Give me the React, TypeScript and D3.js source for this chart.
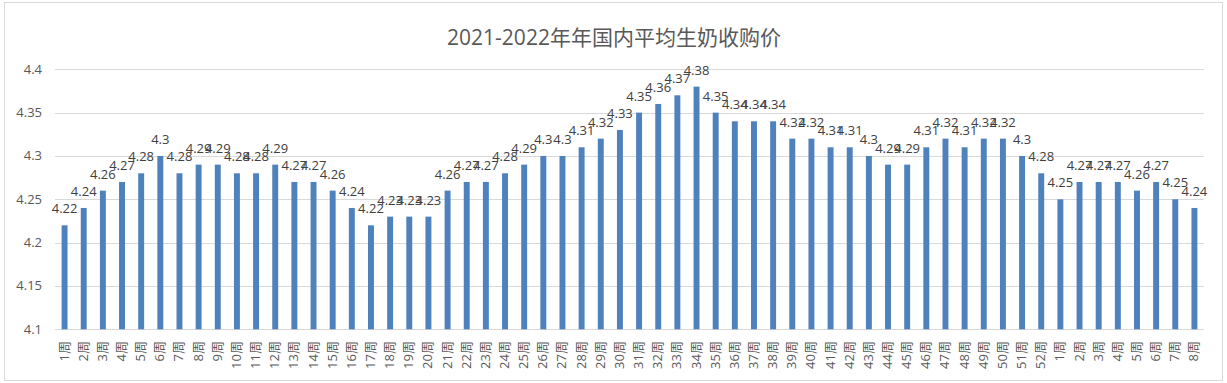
import React from "react";
import * as d3 from "d3";

const categories: string[] = [
  "1周","2周","3周","4周","5周","6周","7周","8周","9周","10周",
  "11周","12周","13周","14周","15周","16周","17周","18周","19周","20周",
  "21周","22周","23周","24周","25周","26周","27周","28周","29周","30周",
  "31周","32周","33周","34周","35周","36周","37周","38周","39周","40周",
  "41周","42周","43周","44周","45周","46周","47周","48周","49周","50周",
  "51周","52周","1周","2周","3周","4周","5周","6周","7周","8周",
];
const values: number[] = [
  4.22,4.24,4.26,4.27,4.28,4.3,4.28,4.29,4.29,4.28,
  4.28,4.29,4.27,4.27,4.26,4.24,4.22,4.23,4.23,4.23,
  4.26,4.27,4.27,4.28,4.29,4.3,4.3,4.31,4.32,4.33,
  4.35,4.36,4.37,4.38,4.35,4.34,4.34,4.34,4.32,4.32,
  4.31,4.31,4.3,4.29,4.29,4.31,4.32,4.31,4.32,4.32,
  4.3,4.28,4.25,4.27,4.27,4.27,4.26,4.27,4.25,4.24,
];
const yTicks: number[] = [4.1,4.15,4.2,4.25,4.3,4.35,4.4];
const title = "2021-2022年年国内平均生奶收购价";

const W = 1227, H = 383;
const plot = { left: 55, right: 1204, top: 69.3, bottom: 329.3 };
const font = "'Open Sans', 'Noto Sans CJK SC', sans-serif";

export default function App() {
  const idx = values.map((_, i) => String(i));
  const x = d3.scaleBand<string>().domain(idx).range([plot.left, plot.right]).paddingInner(0.69).paddingOuter(0.345);
  const y = d3.scaleLinear().domain([4.1, 4.4]).range([plot.bottom, plot.top]);
  const fmt = (v: number) => String(+v.toFixed(2));
  return (
    <svg width={W} height={H} style={{ position: "absolute", left: 0, top: 0, fontFamily: font }}>
      <rect x={0} y={0} width={W} height={H} fill="#fff" />
      <rect x={4.5} y={2.5} width={1218} height={378} fill="none" stroke="#d9d9d9" />
      <text x={614} y={45} textAnchor="middle" fontSize={21} fill="#595959">{title}</text>
      {yTicks.map((t) => (
        <g key={t}>
          <line x1={plot.left} x2={plot.right} y1={Math.round(y(t)) + 0.5} y2={Math.round(y(t)) + 0.5} stroke="#d9d9d9" />
          <text x={42} y={y(t) + 4.5} textAnchor="end" fontSize={13} fill="#595959">{fmt(t)}</text>
        </g>
      ))}
      {values.map((v, i) => {
        const bx = x(String(i))!;
        const cx = bx + x.bandwidth() / 2;
        return (
          <g key={i}>
            <rect x={bx} y={y(v)} width={x.bandwidth()} height={plot.bottom - y(v)} fill="#4f81bd" />
            <text x={cx} y={y(v) - 12} textAnchor="middle" fontSize={13} fill="#404040">{fmt(v)}</text>
            <text transform={`translate(${cx + 4},${341}) rotate(-90)`} textAnchor="end" fontSize={13} fill="#595959">{categories[i]}</text>
          </g>
        );
      })}
    </svg>
  );
}
